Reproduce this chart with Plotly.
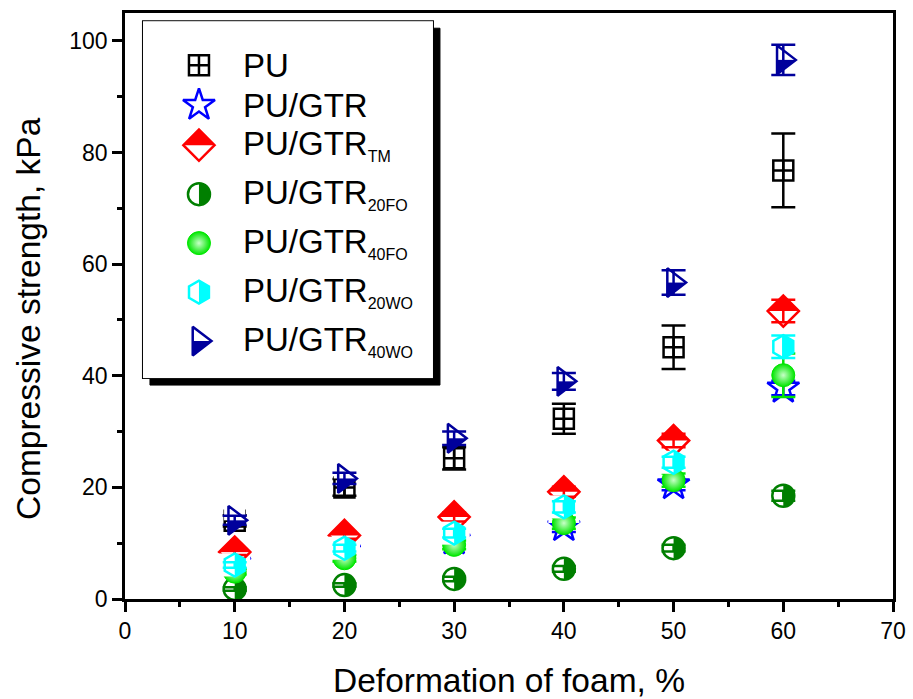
import plotly.graph_objects as go

# ---------------- data ----------------
deformation = [10, 20, 30, 40, 50, 60]

pu = [14.0, 20.0, 25.2, 32.3, 45.1, 76.8]
pu_err = [1.0, 1.5, 2.0, 2.7, 3.9, 6.6]

pu_gtr = [6.4, 8.6, 10.6, 13.0, 20.5, 37.8]
pu_gtr_err = [0.5, 0.6, 1.0, 1.0, 1.0, 1.3]

pu_gtr_tm = [8.4, 11.4, 14.7, 19.2, 28.4, 51.6]
pu_gtr_tm_err = [0.5, 0.6, 0.8, 0.9, 1.2, 2.0]

pu_gtr_20fo = [1.8, 2.5, 3.6, 5.4, 9.1, 18.5]
pu_gtr_20fo_err = [0.3, 0.3, 0.4, 0.5, 0.6, 0.9]

pu_gtr_40fo = [4.9, 7.3, 9.7, 13.6, 21.3, 40.1]
pu_gtr_40fo_err = [0.5, 0.6, 0.8, 1.0, 1.2, 3.9]

pu_gtr_20wo = [6.1, 9.1, 11.8, 16.5, 24.5, 45.2]
pu_gtr_20wo_err = [0.5, 0.6, 0.8, 1.0, 1.0, 2.0]

pu_gtr_40wo = [14.1, 21.6, 28.8, 39.0, 56.7, 96.6]
pu_gtr_40wo_err = [0.8, 1.0, 1.2, 1.5, 2.2, 2.7]

series_names = ["PU", "PU/GTR", "PU/GTR<sub>TM</sub>", "PU/GTR<sub>20FO</sub>",
                "PU/GTR<sub>40FO</sub>", "PU/GTR<sub>20WO</sub>", "PU/GTR<sub>40WO</sub>"]

x_title = "Deformation of foam, %"
y_title = "Compressive strength, kPa"

# ---------------- styles ----------------
FONT = "Liberation Sans, Arial, sans-serif"
LW = 2.5
TITLE_SIZE = 33.5

styles = [
    dict(kind="plain", symbol="square-cross-open", color="black", size=20),
    dict(kind="plain", symbol="star-open", color="#0000FF", size=24),
    dict(kind="half", symbol="diamond", color="#FF0000", size=24, cover=(1.3, 0)),
    dict(kind="half", symbol="circle", color="#007F00", size=22, cover=(1.0, 90)),
    dict(kind="sphere", symbol="circle", color="#00E600", size=23),
    dict(kind="half", symbol="hexagon", color="#00FFFF", size=23, cover=(1.0, 90)),
    dict(kind="half", symbol="triangle-right", color="#00009C", size=25, cover=(0.85, 180)),
]


def marker_layers(st):
    """Marker layers that together build the (half-filled) symbol."""
    c, s, sym = st["color"], st["size"], st["symbol"]
    if st["kind"] == "plain":
        return [dict(symbol=sym, size=s, color=c, line=dict(color=c, width=LW))]
    if st["kind"] == "sphere":
        return [dict(symbol=sym, size=s, color=c, gradient=dict(type="radial", color="#c8ffc8"),
                     line=dict(color=c, width=1))]
    k, ang = st["cover"]
    cs = s * k
    return [
        dict(symbol=sym, size=s, color=c, line=dict(color=c, width=0)),
        dict(symbol="square", size=cs, color="white", angle=ang, standoff=cs / 2,
             line=dict(width=0)),
        dict(symbol=sym + "-open", size=s, color=c, line=dict(color=c, width=LW)),
    ]


values = [pu, pu_gtr, pu_gtr_tm, pu_gtr_20fo, pu_gtr_40fo, pu_gtr_20wo, pu_gtr_40wo]
errors = [pu_err, pu_gtr_err, pu_gtr_tm_err, pu_gtr_20fo_err, pu_gtr_40fo_err,
          pu_gtr_20wo_err, pu_gtr_40wo_err]

fig = go.Figure()

for name, vals, errs, st in zip(series_names, values, errors, styles):
    layers = marker_layers(st)
    for j, m in enumerate(layers):
        last = j == len(layers) - 1
        fig.add_trace(go.Scatter(
            x=deformation, y=vals, mode="markers", name=name, showlegend=False,
            marker=m, hoverinfo="skip" if not last else None,
            error_y=(dict(type="data", array=errs, color=st["color"], thickness=LW, width=12)
                     if last else None),
            xaxis="x", yaxis="y",
        ))

# ---------------- manual legend (auxiliary pixel-scaled axes inside legend box) ----------------
LEG_W, LEG_H = 290, 357          # legend box size in px
LEG_FIRST = 44                   # first row offset from the box top, px
ROW_GAP, ROW_GAP_SUB = 40, 49    # row pitch after a plain / a subscripted entry, px
row_y = []
y_cur = LEG_FIRST
for name in series_names:
    row_y.append(y_cur)
    y_cur += ROW_GAP_SUB if "<sub>" in name else ROW_GAP

for name, st, ry in zip(series_names, styles, row_y):
    for m in marker_layers(st):
        fig.add_trace(go.Scatter(
            x=[56], y=[ry], mode="markers", marker=m, showlegend=False,
            hoverinfo="skip", xaxis="x2", yaxis="y2",
        ))
    fig.add_annotation(
        x=98, y=ry, xref="x2", yref="y2", xanchor="left", yanchor="middle",
        text=name.replace("<sub>", "<sub><span style='font-size:16px'>").replace("</sub>", "</span></sub>"),
        showarrow=False, font=dict(family=FONT, size=33, color="black"),
    )

box = dict(x0=0.0234, x1=0.401, y0=0.377, y1=0.986)
shadow_dx, shadow_dy = 7 / 768, 7 / 586
fig.add_shape(type="rect", xref="paper", yref="paper", layer="below",
              x0=box["x0"] + shadow_dx, x1=box["x1"] + shadow_dx,
              y0=box["y0"] - shadow_dy, y1=box["y1"] - shadow_dy,
              fillcolor="black", line=dict(color="black", width=1))
fig.add_shape(type="rect", xref="paper", yref="paper", layer="below",
              x0=box["x0"], x1=box["x1"], y0=box["y0"], y1=box["y1"],
              fillcolor="white", line=dict(color="black", width=2))

# y-axis title (placed as a rotated annotation, slightly below the axis centre as in the original)
fig.add_annotation(
    x=-0.125, y=0.478, xref="paper", yref="paper", xanchor="center", yanchor="middle",
    text=y_title, textangle=-90, showarrow=False,
    font=dict(family=FONT, size=TITLE_SIZE, color="black"),
)

axis_common = dict(
    showgrid=False, zeroline=False, showline=True, linecolor="black", linewidth=2.5,
    mirror=True, ticks="outside", ticklen=10, tickwidth=2.5, tickcolor="black",
    tickfont=dict(family=FONT, size=23, color="black"), automargin=False,
)

fig.update_layout(
    width=913, height=699,
    margin=dict(l=125, r=20, t=13, b=100),
    paper_bgcolor="white", plot_bgcolor="white",
    showlegend=False,
    xaxis=dict(range=[0, 70], dtick=10, tick0=0,
               minor=dict(ticks="outside", ticklen=5, tickwidth=2.5, dtick=5, tickcolor="black"),
               title=dict(text=x_title, font=dict(family=FONT, size=TITLE_SIZE, color="black"),
                          standoff=28),
               **axis_common),
    yaxis=dict(range=[0, 105], dtick=20, tick0=0,
               minor=dict(ticks="outside", ticklen=5, tickwidth=2.5, dtick=10, tickcolor="black"),
               **axis_common),
    xaxis2=dict(domain=[box["x0"], box["x1"]], range=[0, LEG_W], anchor="y2", visible=False,
                fixedrange=True),
    yaxis2=dict(domain=[box["y0"], box["y1"]], range=[LEG_H, 0], anchor="x2", visible=False,
                fixedrange=True),
)

fig.write_html("out.html", config={"displayModeBar": False},
               post_script="document.body.style.margin='0';document.body.style.overflow='hidden';")
